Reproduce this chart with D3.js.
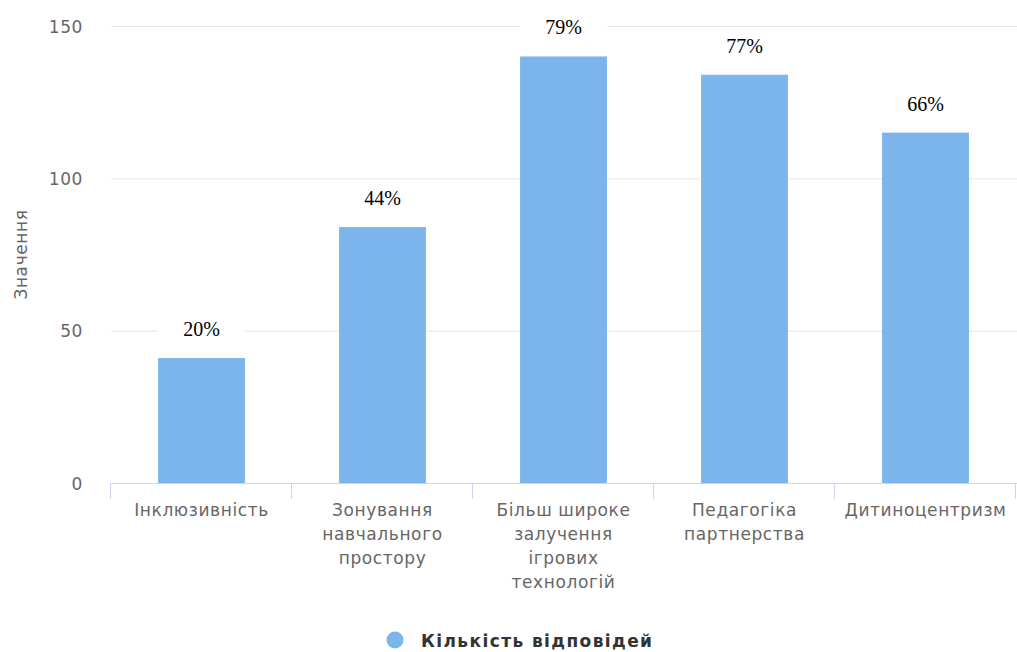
<!DOCTYPE html>
<html>
<head>
<meta charset="utf-8">
<script src="https://cdn.jsdelivr.net/npm/d3@7"></script>
<style>
  html, body { margin: 0; padding: 0; background: #fff; }
  svg { display: block; }
</style>
</head>
<body>
<svg id="chart" width="1017" height="652"></svg>
<script>
// Survey results: number of responses per category
const categories = [
  ["Інклюзивність"],
  ["Зонування", "навчального", "простору"],
  ["Більш широке", "залучення", "ігрових", "технологій"],
  ["Педагогіка", "партнерства"],
  ["Дитиноцентризм"]
];
const values = [41, 84, 140, 134, 115];
const percentLabels = ["20%", "44%", "79%", "77%", "66%"];
const yTicks = [0, 50, 100, 150];
const seriesName = "Кількість відповідей";
const yTitle = "Значення";

const color = "#7cb5ec";
const font = "DejaVu Sans, Verdana, sans-serif";
const svg = d3.select("#chart");
const width = 1017, height = 652;
const margin = { left: 111, right: 1, top: 26, bottom: 169 };
const plotBottom = height - margin.bottom;

const x = d3.scaleBand()
  .domain(d3.range(categories.length))
  .range([margin.left, width - margin.right])
  .padding(0);

const y = d3.scaleLinear()
  .domain([0, 150])
  .range([plotBottom, margin.top]);

const barW = x.bandwidth() * 0.48;

// Horizontal grid lines and value axis labels
const yAxis = d3.axisLeft(y)
  .tickValues(yTicks)
  .tickSize(-(width - margin.left))
  .tickPadding(28)
  .tickFormat(d3.format("d"));

const gy = svg.append("g")
  .attr("transform", `translate(${margin.left},0)`)
  .call(yAxis);
gy.select(".domain").remove();
gy.selectAll(".tick line").attr("stroke", "#e6e6e6").attr("stroke-width", 1);
gy.selectAll(".tick text")
  .attr("fill", "#666")
  .attr("dy", "0.36em")
  .style("font-family", font)
  .style("font-size", "17px")
  .style("letter-spacing", "0.6px");

// Value axis title
svg.append("text")
  .attr("transform", `translate(27,${(margin.top + plotBottom) / 2}) rotate(-90)`)
  .attr("text-anchor", "middle")
  .attr("fill", "#666")
  .style("font-family", font)
  .style("font-size", "17px")
  .style("letter-spacing", "0.6px")
  .text(yTitle);

// Bars
svg.append("g").selectAll("rect")
  .data(values)
  .join("rect")
  .attr("x", (d, i) => x(i) + (x.bandwidth() - barW) / 2)
  .attr("y", d => y(d))
  .attr("width", barW)
  .attr("height", d => plotBottom - y(d))
  .attr("fill", color);

// Category axis line and boundary ticks
svg.append("line")
  .attr("x1", margin.left).attr("x2", width)
  .attr("y1", plotBottom + 0.5).attr("y2", plotBottom + 0.5)
  .attr("stroke", "#ccd6eb");

svg.append("g").selectAll("line")
  .data(d3.range(categories.length + 1))
  .join("line")
  .attr("x1", i => Math.round(margin.left + i * x.step()) - 0.5)
  .attr("x2", i => Math.round(margin.left + i * x.step()) - 0.5)
  .attr("y1", plotBottom)
  .attr("y2", plotBottom + 16)
  .attr("stroke", "#ccd6eb");

// Category labels
const xl = svg.append("g").selectAll("text")
  .data(categories)
  .join("text")
  .attr("x", (d, i) => x(i) + x.bandwidth() / 2)
  .attr("y", plotBottom + 33)
  .attr("text-anchor", "middle")
  .attr("fill", "#666")
  .style("font-family", font)
  .style("font-size", "17px")
  .style("letter-spacing", "0.6px");
xl.selectAll("tspan")
  .data(d => d)
  .join("tspan")
  .attr("x", function () { return this.parentNode.getAttribute("x"); })
  .attr("dy", (d, j) => j === 0 ? 0 : 24)
  .text(d => d);

// Value labels with white backing box
const lab = svg.append("g").selectAll("g")
  .data(values)
  .join("g");
lab.append("rect")
  .attr("x", (d, i) => x(i) + (x.bandwidth() - barW) / 2)
  .attr("y", d => y(d) - 40)
  .attr("width", barW)
  .attr("height", 38)
  .attr("fill", "#fff");
lab.append("text")
  .attr("x", (d, i) => x(i) + x.bandwidth() / 2)
  .attr("y", d => y(d) - 22)
  .attr("text-anchor", "middle")
  .attr("fill", "#000")
  .style("font-family", "Liberation Serif, serif")
  .style("font-size", "20px")
  .text((d, i) => percentLabels[i]);

// Legend
svg.append("circle")
  .attr("cx", 395).attr("cy", 640).attr("r", 8.5)
  .attr("fill", color);
svg.append("text")
  .attr("x", 421).attr("y", 647)
  .attr("fill", "#333")
  .style("font-family", font)
  .style("font-size", "17px")
  .style("font-weight", "bold")
  .style("letter-spacing", "1.4px")
  .text(seriesName);
</script>
</body>
</html>
